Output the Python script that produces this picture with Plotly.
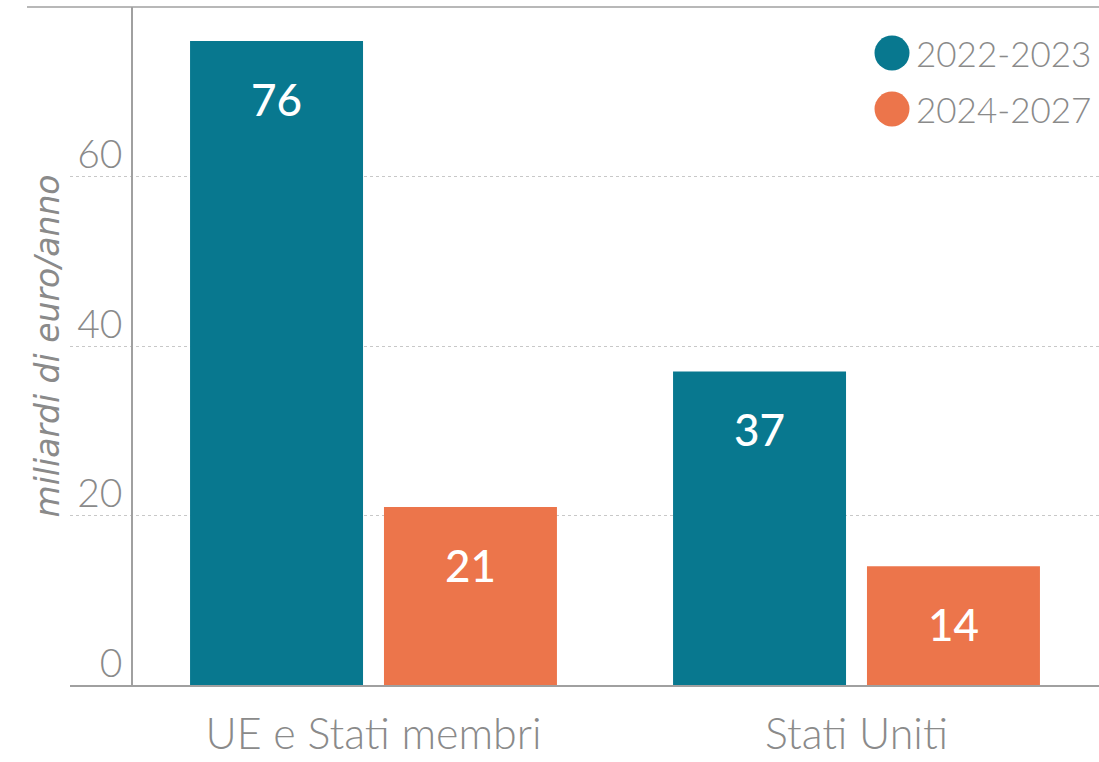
import plotly.graph_objects as go

categories = ["UE e Stati membri", "Stati Uniti"]
series_names = ["2022-2023", "2024-2027"]
values_2022_2023 = [76, 37]
values_2024_2027 = [21, 14]
colors = ["#08788f", "#ec754b"]
y_ticks = [0, 20, 40, 60]
y_title = "miliardi di euro/anno"

W, H = 1099, 762
ML, MR, MT, MB = 70, 0, 7, 77
PW, PH = W - ML - MR, H - MT - MB

def px_x(p):
    return (p - ML) / PW

def px_y(p):
    return (H - MB - p) / PH

FONT = "Lato"
GRAY = "#8a8a8a"

fig = go.Figure()
series = [values_2022_2023, values_2024_2027]
for name, vals, col in zip(series_names, series, colors):
    fig.add_trace(go.Bar(x=categories, y=vals, name=name, marker_color=col,
                         marker_line_width=0, showlegend=False))

# value labels inside bars
offsets = [-97, 97]
for vals, off in zip(series, offsets):
    for c, v in zip(categories, vals):
        fig.add_annotation(x=c, y=v, xref="x", yref="y", text=str(v), showarrow=False,
                           yanchor="top", xshift=off, yshift=-30,
                           font=dict(family=FONT, size=44, color="white", weight=500))

# legend (circles + labels)
legend_y = [53, 109]
for name, col, ly in zip(series_names, colors, legend_y):
    r = 17.5
    cx = 892
    fig.add_shape(type="circle", xref="paper", yref="paper",
                  x0=px_x(cx - r), x1=px_x(cx + r), y0=px_y(ly + r), y1=px_y(ly - r),
                  fillcolor=col, line_width=0)
    fig.add_annotation(x=px_x(914), y=px_y(ly), xref="paper", yref="paper", text=name,
                       showarrow=False, xanchor="left", yanchor="middle",
                       font=dict(family=FONT, size=35, color=GRAY, weight=300))

# top border line
fig.add_shape(type="line", xref="paper", yref="paper", x0=px_x(27), x1=1, y0=1, y1=1,
              line=dict(color="#a0a0a0", width=1.5))

xaxis_cfg = dict(
    domain=[0, 1], range=[-(373.5 - ML) / 483, 1 + (W - 856.5) / 483],
    showline=True, linecolor="#a0a0a0", linewidth=1.5, showgrid=False,
    ticks="", tickfont=dict(family=FONT, size=43, color=GRAY, weight=300),
    ticklabelstandoff=11, zeroline=False,
)
yaxis_cfg = dict(
    range=[0, 80], anchor="free", position=px_x(132),
    showline=True, linecolor="#a0a0a0", linewidth=1.5,
    showgrid=True, gridcolor="#c8c8c8", griddash="dot", gridwidth=1,
    tickvals=y_ticks, ticktext=[str(t) for t in y_ticks], ticks="",
    tickfont=dict(family=FONT, size=39, color=GRAY, weight=300),
    ticklabelshift=-22, ticklabelstandoff=1, zeroline=False,
    title=dict(text=y_title, font=dict(family="DejaVu Sans", size=33, color=GRAY, style="italic", weight=300),
               standoff=7),
)

fig.update_layout(
    width=W, height=H, margin=dict(l=ML, r=MR, t=MT, b=MB, autoexpand=False),
    paper_bgcolor="white", plot_bgcolor="white",
    barmode="group", bargap=0.197, bargroupgap=0.108,
    xaxis=xaxis_cfg, yaxis=yaxis_cfg,
)

fig.write_html("out.html", config={"displayModeBar": False},
               post_script="document.body.style.margin='0';")
